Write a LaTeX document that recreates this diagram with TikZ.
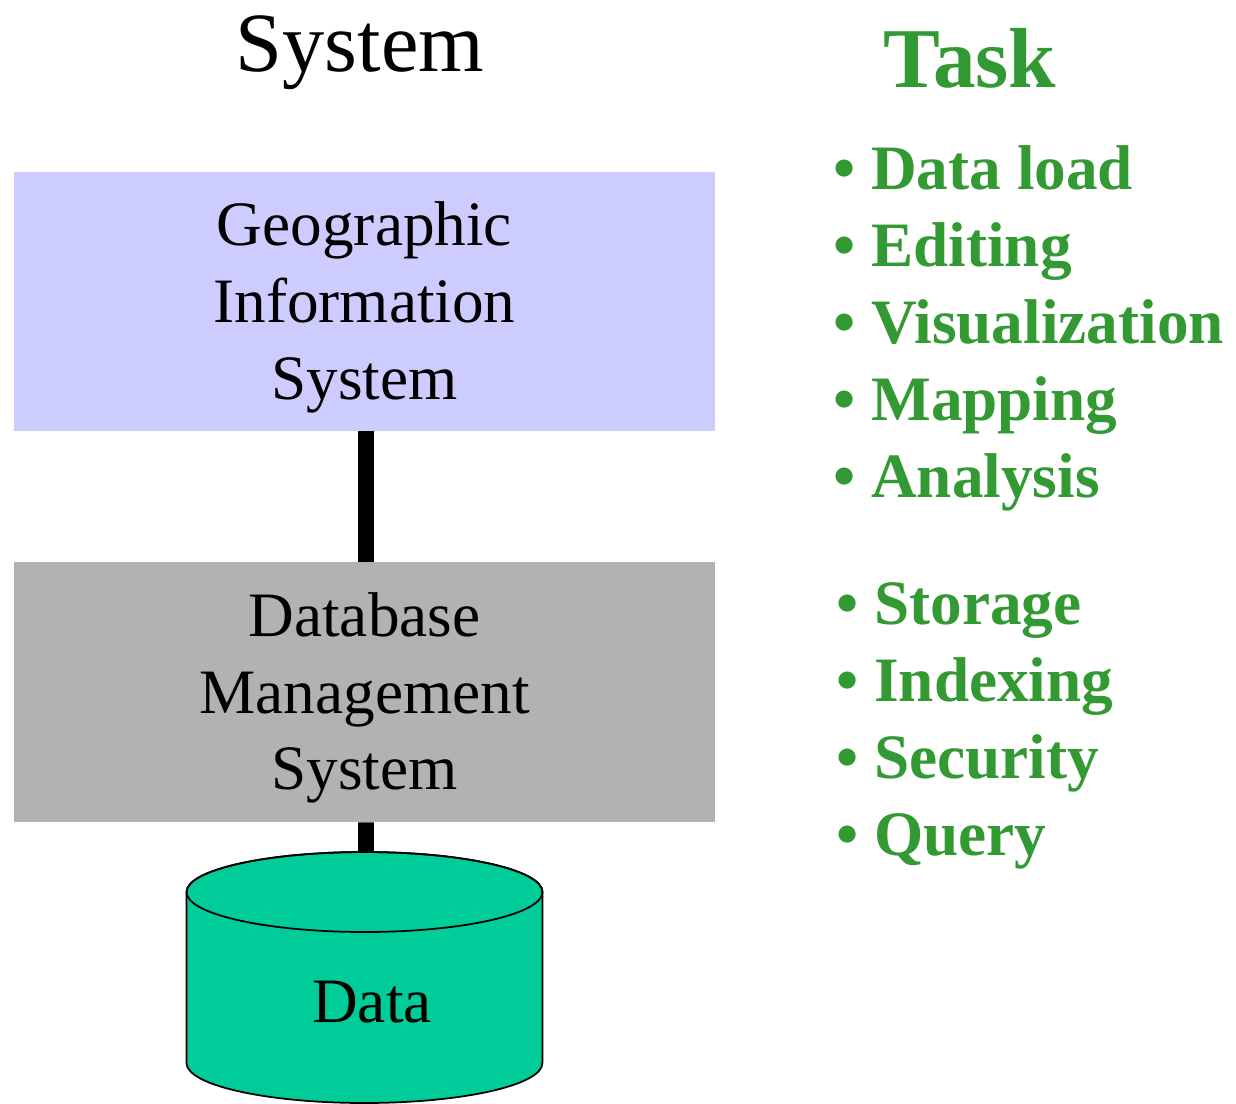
\documentclass[tikz,border=0pt]{standalone}
\usepackage{fontspec}
\setmainfont{Liberation Serif}
\definecolor{gisfill}{HTML}{CCCCFF}
\definecolor{dbfill}{HTML}{B2B2B2}
\definecolor{cylfill}{HTML}{00CC99}
\definecolor{taskgreen}{HTML}{339933}
\tikzset{
  layerbox/.style={draw=none, minimum width=14.02cm, inner sep=0pt},
  layertext/.style={align=center, inner sep=0pt,
    font=\fontsize{36}{43.7}\selectfont},
  link/.style={line width=9pt, black},
  heading/.style={anchor=base, inner sep=0pt, font=\fontsize{48}{56}\selectfont},
  taskitem/.style={anchor=base west, inner sep=0pt, text=taskgreen,
    font=\fontsize{36}{43.7}\selectfont\bfseries},
}
\begin{document}
\begin{tikzpicture}[x=0.02cm, y=0.02cm]
\useasboundingbox (0,0) rectangle (1236,1103);

% column headings
\node[heading] (syshead) at (360,1031) {System};
\node[heading, text=taskgreen, font=\fontsize{48.5}{56}\selectfont\bfseries] (taskhead) at (970,1015) {Task};

% system layers
\node[layerbox, fill=gisfill, minimum height=5.18cm] (gis) at (364.5,801.5) {};
\node[layertext] (gistext) at (364.5,795.5) {Geographic\\Information\\System};
\node[layerbox, fill=dbfill, minimum height=5.2cm] (dbms) at (364.5,411) {};
\node[layertext] (dbtext) at (364.5,405) {Database\\Management\\System};
\coordinate (cyltop) at (366,230);

\draw[link] ([xshift=1.5*0.02cm]gis.south) -- ([xshift=1.5*0.02cm]dbms.north);
\draw[link] ([xshift=1.5*0.02cm]dbms.south) -- (cyltop);

% data store cylinder
\filldraw[fill=cylfill, draw=black, line width=1pt]
  (186.5,211) -- (186.5,40)
  arc[start angle=180, end angle=360, x radius=3.56cm, y radius=0.8cm]
  -- (542.5,211)
  arc[start angle=0, end angle=180, x radius=3.56cm, y radius=0.8cm] -- cycle;
\draw[black, line width=1pt] (364.5,211) ellipse[x radius=3.56cm, y radius=0.8cm];
\node[anchor=base, inner sep=0pt, font=\fontsize{36}{43.7}\selectfont] (data) at (372,81) {Data};

% tasks of each layer
\node[taskitem] (t1) at (833,913) {• Data load};
\node[taskitem] (t2) at (833,836) {• Editing};
\node[taskitem] (t3) at (833,759) {• Visualization};
\node[taskitem] (t4) at (833,682) {• Mapping};
\node[taskitem] (t5) at (833,605) {• Analysis};

\node[taskitem] (t6) at (836,479) {• Storage};
\node[taskitem] (t7) at (836,402) {• Indexing};
\node[taskitem] (t8) at (836,325) {• Security};
\node[taskitem] (t9) at (836,248) {• Query};
\end{tikzpicture}
\end{document}
